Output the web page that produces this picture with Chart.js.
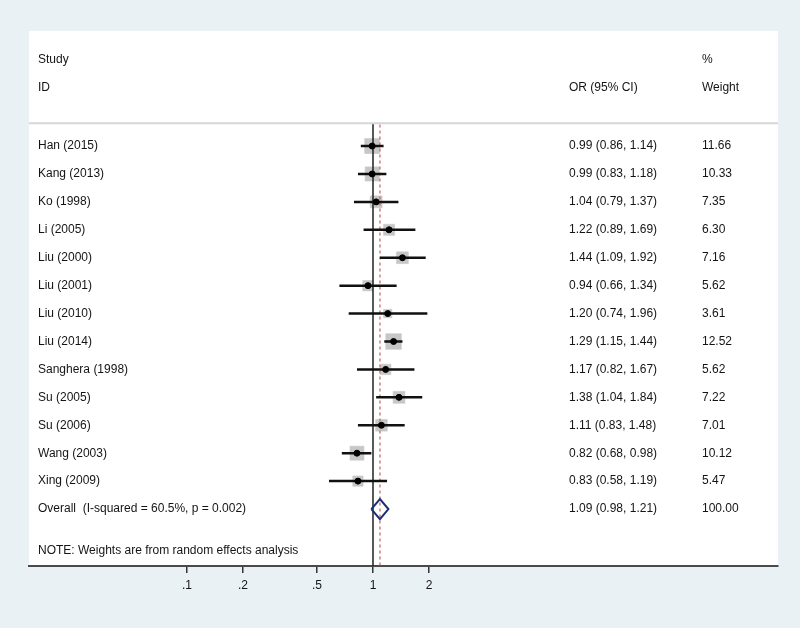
<!DOCTYPE html>
<html>
<head>
<meta charset="utf-8">
<title>Forest plot</title>
<script src="https://cdn.jsdelivr.net/npm/chart.js@4.4.1/dist/chart.umd.min.js"></script>
<style>
  body { margin: 0; background: #e9f1f4; }
  #wrap { width: 800px; height: 628px; position: relative; }
</style>
</head>
<body>
<div id="wrap"><canvas id="forest"></canvas></div>
<script>
// study data
const studies = ['Han (2015)', 'Kang (2013)', 'Ko (1998)', 'Li (2005)', 'Liu (2000)', 'Liu (2001)',
  'Liu (2010)', 'Liu (2014)', 'Sanghera (1998)', 'Su (2005)', 'Su (2006)', 'Wang (2003)', 'Xing (2009)'];
const orValues = [0.99, 0.99, 1.04, 1.22, 1.44, 0.94, 1.20, 1.29, 1.17, 1.38, 1.11, 0.82, 0.83];
const ciLow = [0.86, 0.83, 0.79, 0.89, 1.09, 0.66, 0.74, 1.15, 0.82, 1.04, 0.83, 0.68, 0.58];
const ciHigh = [1.14, 1.18, 1.37, 1.69, 1.92, 1.34, 1.96, 1.44, 1.67, 1.84, 1.48, 0.98, 1.19];
const weights = [11.66, 10.33, 7.35, 6.30, 7.16, 5.62, 3.61, 12.52, 5.62, 7.22, 7.01, 10.12, 5.47];

const overallLabel = 'Overall  (I-squared = 60.5%, p = 0.002)';
const overallOR = 1.09;
const overallLow = 0.98;
const overallHigh = 1.21;
const overallWeight = 100.00;

const noteText = 'NOTE: Weights are from random effects analysis';
const tickValues = [0.1, 0.2, 0.5, 1, 2];
const tickLabels = ['.1', '.2', '.5', '1', '2'];

// layout (row units on the y scale, row 0 = first study)
const Y_MIN = -4.12, Y_MAX = 15.04;
const overallRow = studies.length;
const sepRow = -0.82;
const FONT = '12px "Liberation Sans", Arial, sans-serif';
const TEXT = '#141414';

const fmt = v => v.toFixed(2);

// CI segments, broken by gaps
const ciData = [];
studies.forEach((s, i) => {
  ciData.push({ x: ciLow[i], y: i }, { x: ciHigh[i], y: i }, { x: NaN, y: NaN });
});
const pointData = orValues.map((v, i) => ({ x: v, y: i }));

const diamondH = 0.36;
const diamondData = [
  { x: overallLow, y: overallRow },
  { x: overallOR, y: overallRow - diamondH },
  { x: overallHigh, y: overallRow },
  { x: overallOR, y: overallRow + diamondH },
  { x: overallLow, y: overallRow }
];

const panelPlugin = {
  id: 'panel',
  beforeDraw(chart) {
    const { ctx, chartArea: a } = chart;
    ctx.save();
    ctx.fillStyle = '#e9f1f4';
    ctx.fillRect(0, 0, chart.width, chart.height);
    ctx.fillStyle = '#ffffff';
    ctx.fillRect(a.left, a.top, a.right - a.left, a.bottom - a.top);
    ctx.restore();
  }
};

const textPlugin = {
  id: 'columns',
  afterDraw(chart) {
    const { ctx, chartArea: a } = chart;
    const y = chart.scales.y;
    ctx.save();
    // header separator
    ctx.strokeStyle = '#d6d6d6';
    ctx.lineWidth = 2;
    ctx.beginPath();
    ctx.moveTo(a.left, y.getPixelForValue(sepRow));
    ctx.lineTo(a.right, y.getPixelForValue(sepRow));
    ctx.stroke();

    ctx.font = FONT;
    ctx.fillStyle = TEXT;
    ctx.textBaseline = 'middle';
    ctx.textAlign = 'left';
    const colName = 38, colOR = 569, colW = 702;
    ctx.fillText('Study', colName, y.getPixelForValue(-3.08));
    ctx.fillText('ID', colName, y.getPixelForValue(-2.08));
    ctx.fillText('OR (95% CI)', colOR, y.getPixelForValue(-2.08));
    ctx.fillText('%', colW, y.getPixelForValue(-3.08));
    ctx.fillText('Weight', colW, y.getPixelForValue(-2.08));

    studies.forEach((s, i) => {
      const py = y.getPixelForValue(i);
      ctx.fillText(s, colName, py);
      ctx.fillText(fmt(orValues[i]) + ' (' + fmt(ciLow[i]) + ', ' + fmt(ciHigh[i]) + ')', colOR, py);
      ctx.fillText(fmt(weights[i]), colW, py);
    });
    const po = y.getPixelForValue(overallRow);
    ctx.fillText(overallLabel, colName, po);
    ctx.fillText(fmt(overallOR) + ' (' + fmt(overallLow) + ', ' + fmt(overallHigh) + ')', colOR, po);
    ctx.fillText(fmt(overallWeight), colW, po);
    ctx.fillText(noteText, colName, y.getPixelForValue(14.5));
    ctx.restore();
  }
};

new Chart(document.getElementById('forest'), {
  type: 'scatter',
  data: {
    datasets: [
      {
        // overall diamond
        data: diamondData,
        showLine: true,
        borderColor: '#1c2c78',
        borderWidth: 2,
        pointRadius: 0,
        fill: false,
        order: 0
      },
      {
        // point estimates
        data: pointData,
        pointRadius: 3,
        backgroundColor: '#000000',
        borderColor: '#000000',
        order: 1
      },
      {
        // confidence intervals
        data: ciData,
        showLine: true,
        spanGaps: false,
        borderColor: '#111111',
        borderWidth: 2.5,
        pointRadius: 0,
        order: 2
      },
      {
        // pooled estimate, dashed
        data: [{ x: overallOR, y: sepRow + 0.05 }, { x: overallOR, y: Y_MAX }],
        showLine: true,
        borderColor: '#c8605a',
        borderWidth: 1.2,
        borderDash: [3, 3],
        pointRadius: 0,
        order: 3
      },
      {
        // line of no effect
        data: [{ x: 1, y: sepRow }, { x: 1, y: Y_MAX }],
        showLine: true,
        borderColor: '#222222',
        borderWidth: 1.5,
        pointRadius: 0,
        order: 4
      },
      {
        // weight boxes
        data: pointData,
        pointStyle: 'rect',
        pointRadius: ctx => 15 * Math.sqrt(weights[ctx.dataIndex] / 11.66) / Math.SQRT2,
        backgroundColor: 'rgba(175,175,175,0.7)',
        borderColor: 'rgba(200,200,200,0.6)',
        borderWidth: 1,
        order: 5
      }
    ]
  },
  options: {
    responsive: true,
    maintainAspectRatio: false,
    animation: false,
    layout: { padding: { left: 29, right: 22, top: 31, bottom: 0 } },
    plugins: { legend: { display: false }, tooltip: { enabled: false } },
    scales: {
      x: {
        type: 'logarithmic',
        min: 0.01415,
        max: 150.4,
        afterBuildTicks: scale => { scale.ticks = tickValues.map(v => ({ value: v })); },
        afterFit: scale => { scale.height = 62; },
        ticks: {
          autoSkip: false,
          maxRotation: 0,
          padding: 5,
          color: TEXT,
          font: { family: '"Liberation Sans", Arial, sans-serif', size: 12 },
          callback: (v, i) => tickLabels[i]
        },
        grid: { drawOnChartArea: false, drawTicks: true, tickLength: 7, color: '#333333', lineWidth: 1.5 },
        border: { display: true, color: '#4a4a4a', width: 2 }
      },
      y: {
        type: 'linear',
        reverse: true,
        min: Y_MIN,
        max: Y_MAX,
        display: false
      }
    }
  },
  plugins: [panelPlugin, textPlugin]
});
</script>
</body>
</html>
